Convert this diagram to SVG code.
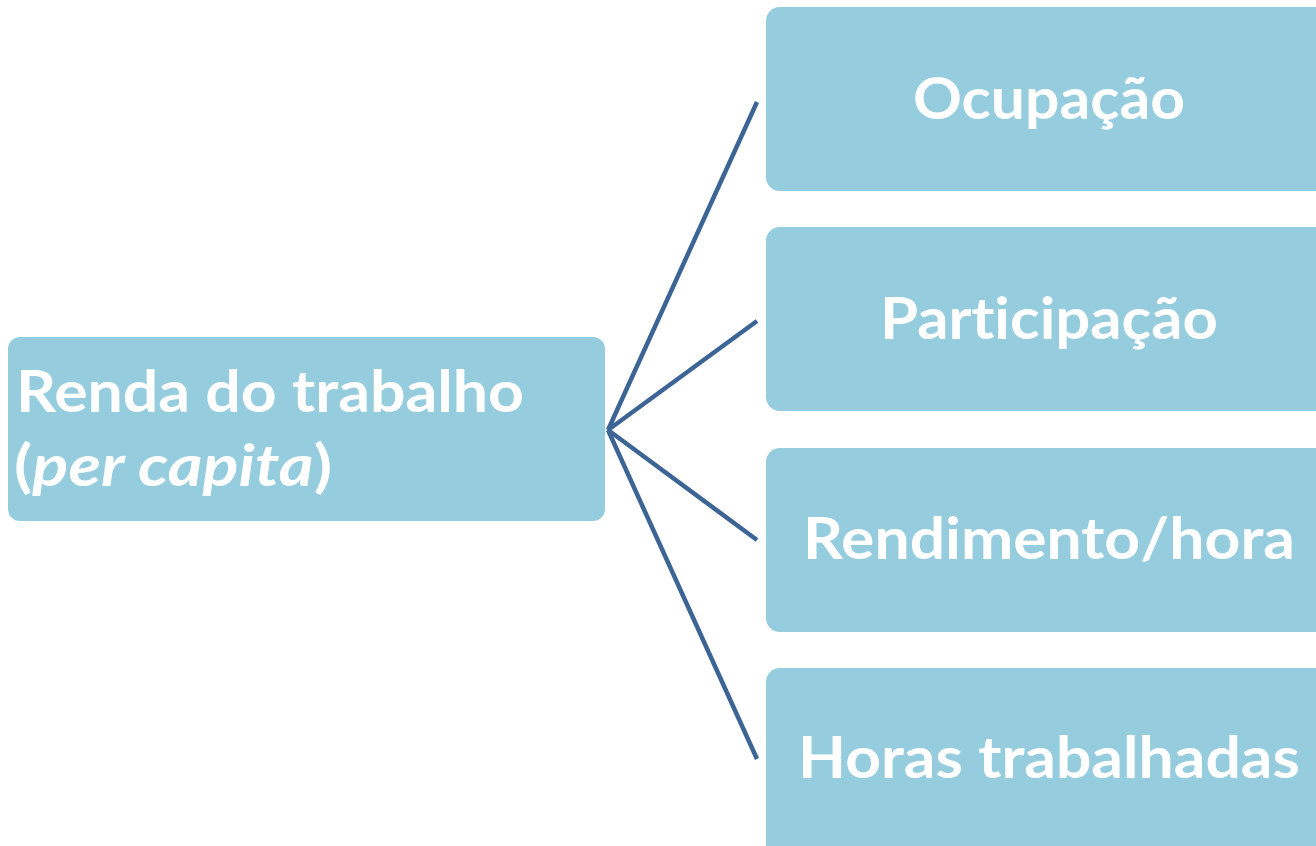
<svg xmlns="http://www.w3.org/2000/svg" width="1316" height="846" viewBox="0 0 1316 846">
<style>
.box{fill:#95CCDE;}
.t{font-family:Lato,"Open Sans","Liberation Sans",sans-serif;font-weight:bold;font-size:58px;fill:#ffffff;font-variant-ligatures:none;font-feature-settings:"liga" 0;}
.c{text-anchor:middle;}
.con{stroke:#3C6595;stroke-width:4.5;fill:none;}
</style>
<rect width="1316" height="846" fill="#ffffff"/>
<g id="connectors">
<line class="con" x1="608" y1="430" x2="757" y2="102"/>
<line class="con" x1="608" y1="430" x2="757" y2="321"/>
<line class="con" x1="608" y1="430" x2="757" y2="540"/>
<line class="con" x1="608" y1="430" x2="757" y2="759"/>
</g>
<g id="renda">
<rect class="box" x="8" y="337" width="597" height="184" rx="12"/>
<text class="t" x="16" y="412" textLength="508" lengthAdjust="spacingAndGlyphs">Renda do trabalho</text>
<text class="t" x="14" y="486" textLength="318" lengthAdjust="spacingAndGlyphs">(<tspan font-style="italic">per capita</tspan>)</text>
</g>
<g id="ocupacao">
<rect class="box" x="766" y="7" width="600" height="184" rx="14"/>
<text class="t c" x="1049" y="119" textLength="272" lengthAdjust="spacingAndGlyphs">Ocupação</text>
</g>
<g id="participacao">
<rect class="box" x="766" y="227" width="600" height="184" rx="14"/>
<text class="t c" x="1049" y="339" textLength="338" lengthAdjust="spacingAndGlyphs">Participação</text>
</g>
<g id="rendimento">
<rect class="box" x="766" y="448" width="600" height="184" rx="14"/>
<text class="t c" x="1049" y="559" textLength="492" lengthAdjust="spacingAndGlyphs">Rendimento/hora</text>
</g>
<g id="horas">
<rect class="box" x="766" y="668" width="600" height="200" rx="14"/>
<text class="t c" x="1049" y="778" textLength="502" lengthAdjust="spacingAndGlyphs">Horas trabalhadas</text>
</g>
</svg>
